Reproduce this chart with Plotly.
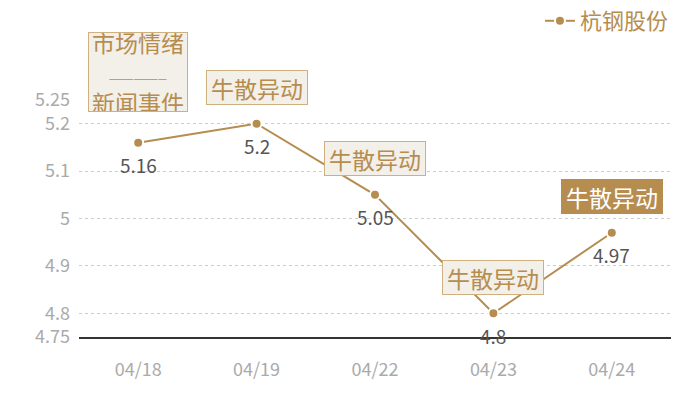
import plotly.graph_objects as go

# data
dates = ['04/18', '04/19', '04/22', '04/23', '04/24']
prices = [5.16, 5.2, 5.05, 4.8, 4.97]
price_labels = ['5.16', '5.2', '5.05', '4.8', '4.97']
event_dates = ['04/19', '04/22', '04/23', '04/24']
event_text = ['牛散异动', '牛散异动', '牛散异动', '牛散异动']
event_highlight = [False, False, False, True]
y_ticks = [4.75, 4.8, 4.9, 5, 5.1, 5.2, 5.25]
y_tick_labels = ['4.75', '4.8', '4.9', '5', '5.1', '5.2', '5.25']

GOLD = '#b68d4f'
FONT = 'Noto Sans CJK SC'

fig = go.Figure()
fig.add_trace(go.Scatter(
    x=dates, y=prices, name='杭钢股份',
    mode='lines+markers',
    line=dict(color=GOLD, width=2),
    marker=dict(color=GOLD, size=10, line=dict(color='white', width=2)),
))

# value labels under the points
for d, p, lbl in zip(dates, prices, price_labels):
    fig.add_annotation(x=d, y=p, text=lbl, showarrow=False, yshift=-22,
                       font=dict(size=19, color='#555555', family=FONT))

# event boxes above points
price_by_date = dict(zip(dates, prices))
for d, t, hl in zip(event_dates, event_text, event_highlight):
    fig.add_annotation(
        x=d, y=price_by_date[d], text=t, showarrow=False, yshift=36,
        width=100, height=33,
        font=dict(size=23, color='white' if hl else GOLD, family=FONT),
        bgcolor=GOLD if hl else '#f3efe9',
        bordercolor=GOLD if hl else '#cfb07f', borderwidth=1, borderpad=0,
    )

# header box at the first category
fig.add_annotation(
    x=dates[0], y=0.95, yref='paper', yanchor='bottom',
    text='市场情绪<br><span style="font-size:10px">———————</span><br>新闻事件',
    showarrow=False, align='center', valign='middle', width=98, height=78,
    font=dict(size=23, color=GOLD, family=FONT),
    bgcolor='#f3efe9', bordercolor='#cfb07f', borderwidth=1, borderpad=0,
)

fig.update_layout(
    width=700, height=400,
    margin=dict(l=79, r=29, t=100, b=63),
    plot_bgcolor='white', paper_bgcolor='white',
    font=dict(family=FONT, color='#aaaaaa', size=15),
    showlegend=True,
    legend=dict(orientation='h', x=1.005, xanchor='right', yref='container', y=1.0, yanchor='top',
                font=dict(size=22, color=GOLD, family=FONT), bgcolor='rgba(0,0,0,0)'),
    xaxis=dict(type='category', range=[-0.5, 4.5], showgrid=False, showline=True,
               linecolor='#333333', linewidth=1.5, ticks='', ticklabelstandoff=16,
               tickfont=dict(size=18, color='#aaaaaa')),
    yaxis=dict(range=[4.75, 5.25], tickvals=y_ticks, ticktext=y_tick_labels,
               showgrid=True, gridcolor='#cccccc', griddash='dot', gridwidth=1,
               zeroline=False, ticks='', ticklabelstandoff=8,
               tickfont=dict(size=18, color='#aaaaaa')),
)

fig.write_html("out.html", config={'displayModeBar': False},
               post_script="document.body.style.margin='0';")
